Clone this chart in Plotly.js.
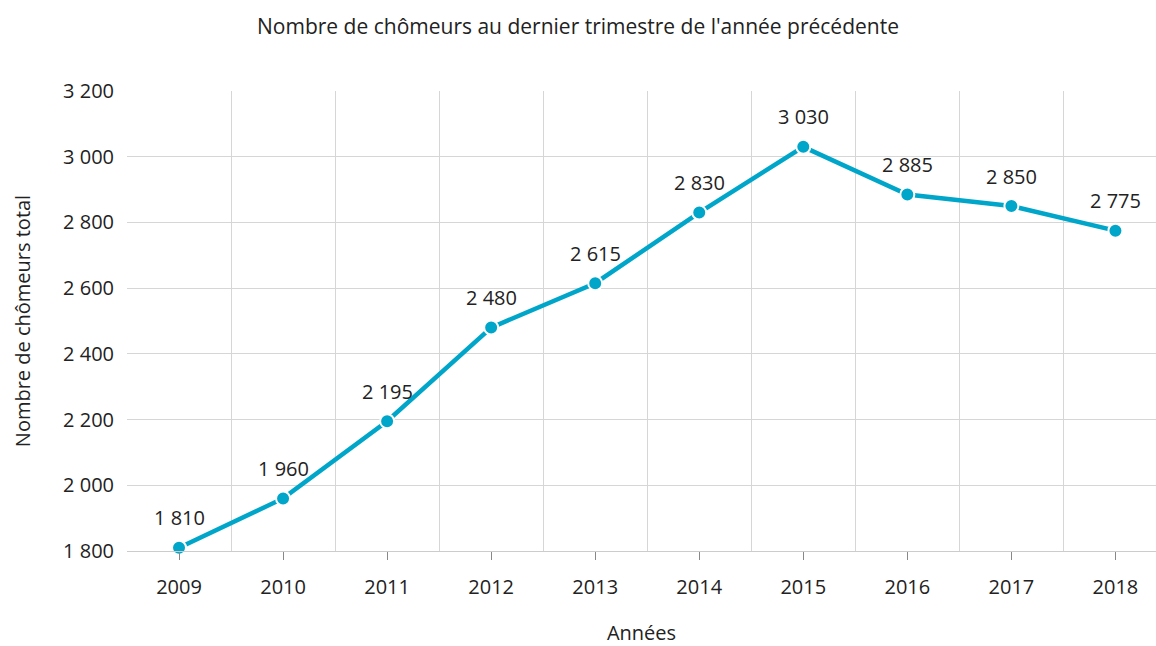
<!DOCTYPE html>
<html><head><meta charset="utf-8">
<script src="https://cdn.plot.ly/plotly-3.0.1.min.js"></script>
<style>html,body{margin:0;padding:0;background:#fff}#chart{width:1156px;height:646px}</style>
</head><body><div id="chart"></div>
<script>
const years = [2009, 2010, 2011, 2012, 2013, 2014, 2015, 2016, 2017, 2018];
const chomeurs = [1810, 1960, 2195, 2480, 2615, 2830, 3030, 2885, 2850, 2775];
const yTicks = [1800, 2000, 2200, 2400, 2600, 2800, 3000, 3200];
const titleText = "Nombre de chômeurs au dernier trimestre de l'année précédente";
const xTitle = "Années";
const yTitle = "Nombre de chômeurs total";

const FONT = "Open Sans, sans-serif";
const fmt = v => String(v).replace(/\B(?=(\d{3})+(?!\d))/g, ' ');
const trace = {
  x: years, y: chomeurs, type: 'scatter', mode: 'lines+markers',
  line: {color: '#00a6c9', width: 4.5},
  marker: {color: '#00a6c9', size: 14, line: {color: '#fff', width: 2}},
  cliponaxis: false, hoverinfo: 'none'
};
const annotations = years.map((yr, i) => ({
  x: yr, y: chomeurs[i], xref: 'x', yref: 'y', text: fmt(chomeurs[i]),
  showarrow: false, yshift: 30, font: {family: FONT, size: 20, color: '#222'}
}));
const layout = {
  width: 1156, height: 646,
  margin: {l: 127, r: 0, t: 91, b: 95},
  separators: ', ',
  paper_bgcolor: '#fff', plot_bgcolor: '#fff',
  font: {family: FONT, color: '#222', size: 20},
  title: {text: titleText, x: 0.5, xanchor: 'center', y: 0.958, yanchor: 'middle',
          font: {family: FONT, size: 21, color: '#222'}},
  showlegend: false,
  annotations: annotations,
  xaxis: {
    range: [2008.5, 2018.39], tickvals: years, ticktext: years.map(String),
    ticks: 'outside', ticklen: 8, tickcolor: '#888', tickwidth: 1,
    ticklabelstandoff: 10,
    showgrid: false, zeroline: false,
    showline: true, linecolor: '#ccc', linewidth: 1,
    tickfont: {family: FONT, size: 20, color: '#222'},
    minor: {tick0: 2008.5, dtick: 1, showgrid: true, gridcolor: '#d6d6d6', gridwidth: 1, ticks: ''},
    title: {text: xTitle, standoff: 26, font: {family: FONT, size: 20, color: '#222'}}
  },
  yaxis: {
    range: [1800, 3200], tickvals: yTicks, separatethousands: true, tickformat: ',d',
    showgrid: true, gridcolor: '#d6d6d6', gridwidth: 1, zeroline: false,
    showline: false, ticks: '', ticklen: 0, ticklabelstandoff: 12,
    tickfont: {family: FONT, size: 20, color: '#222'},
    title: {text: yTitle, standoff: 27, font: {family: FONT, size: 20, color: '#222'}}
  }
};
Plotly.newPlot('chart', [trace], layout, {displayModeBar: false, staticPlot: true});
</script></body></html>
